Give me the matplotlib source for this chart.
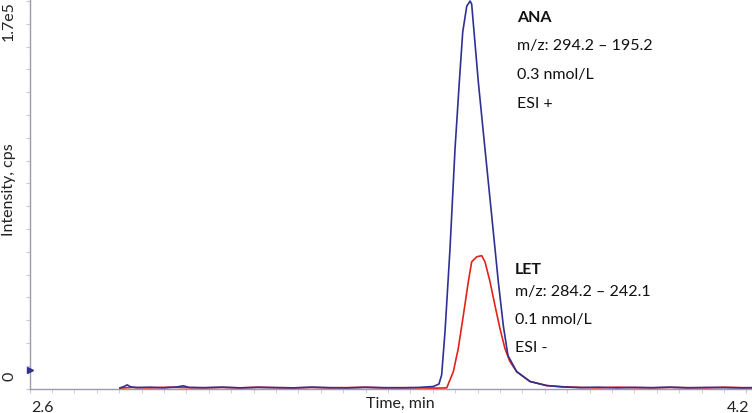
#!/usr/bin/env python3
"""Chromatogram overlay: ANA (ESI+) and LET (ESI-) MRM traces."""

import matplotlib
matplotlib.use('Agg')
import matplotlib.pyplot as plt
import matplotlib.transforms as mtransforms
from matplotlib.ticker import MultipleLocator, FixedLocator

plt.rcParams['font.family'] = ['Lato', 'DejaVu Sans']

# --- ANA trace (time in min, intensity in cps) ---
ana_time = [2.802, 2.810, 2.818, 2.826, 2.840, 2.870, 2.900, 2.930, 2.943, 2.956, 2.990,
            3.030, 3.070, 3.110, 3.150, 3.190, 3.230, 3.270, 3.310, 3.350, 3.390,
            3.430, 3.470, 3.5013, 3.514, 3.520, 3.5275, 3.5386, 3.5498, 3.5594, 3.567,
            3.576, 3.5835, 3.587, 3.6018, 3.6167, 3.6317, 3.6464, 3.6576, 3.6679,
            3.6875, 3.7172, 3.7545, 3.790, 3.830, 3.870, 3.910, 3.950, 3.990,
            4.030, 4.070, 4.110, 4.150, 4.190, 4.212]
ana_int = [300, 800, 1600, 700, 400, 600, 300, 700, 1200, 500, 400,
           600, 300, 500, 400, 300, 600, 400, 300, 500, 400,
           300, 500, 900, 2000, 6000, 25000, 61300, 105100, 134500, 156400,
           167800, 170000, 168600, 134500, 105100, 75800, 46900, 27600, 14500,
           7400, 3100, 1300, 700, 400, 600, 300, 500, 400,
           600, 300, 500, 400, 300, 400]

# --- LET trace ---
let_time = [2.802, 2.830, 2.870, 2.910, 2.950, 2.990, 3.030, 3.070, 3.110, 3.150,
            3.190, 3.230, 3.270, 3.310, 3.350, 3.390, 3.430, 3.470, 3.510,
            3.5313, 3.546, 3.557, 3.5683, 3.5795, 3.587, 3.5982, 3.6094, 3.6167,
            3.6279, 3.639, 3.6502, 3.6613, 3.6725, 3.6875, 3.7172, 3.7545,
            3.790, 3.830, 3.870, 3.910, 3.950, 3.990, 4.030, 4.070, 4.110,
            4.150, 4.190, 4.212]
let_int = [200, 500, 300, 600, 400, 300, 500, 300, 600, 400,
           300, 500, 300, 400, 600, 300, 400, 300, 200,
           300, 7400, 17500, 32000, 46900, 55600, 57800, 58300, 55600,
           46900, 36400, 26300, 17500, 11800, 7400, 3100, 1300,
           800, 500, 300, 600, 400, 300, 500, 400, 300,
           600, 400, 300]

x_tick_vals = [2.6, 4.2]
x_tick_labels = ['2.6', '4.2']

ana_lines = ['ANA', 'm/z: 294.2 – 195.2', '0.3 nmol/L', 'ESI +']
let_lines = ['LET', 'm/z: 284.2 – 242.1', '0.1 nmol/L', 'ESI -']

BLUE = '#2E3192'
RED = '#E2231A'
AXIS = '#9C9CB0'
FS = 11.5


def main():
    fig = plt.figure(figsize=(7.52, 4.14), dpi=100)
    ax = fig.add_axes([29.5 / 752, 24 / 414, 722.5 / 752, 390 / 414])

    ax.plot(let_time, let_int, color=RED, lw=1.2, zorder=3)
    ax.plot(ana_time, ana_int, color=BLUE, lw=1.2, zorder=4)

    ax.set_xlim(2.6, 4.2127)
    ax.set_ylim(-200, 1.709e5)

    for s in ['top', 'right']:
        ax.spines[s].set_visible(False)
    for s in ['left', 'bottom']:
        ax.spines[s].set_color(AXIS)
        ax.spines[s].set_linewidth(1.0)

    # x axis
    ax.xaxis.set_major_locator(FixedLocator(x_tick_vals))
    ax.set_xticklabels(x_tick_labels)
    ax.xaxis.set_minor_locator(MultipleLocator(0.05))
    ax.tick_params(axis='x', which='both', direction='out', length=3, color='#C8C8D4',
                   labelsize=FS, labelcolor='#222222', pad=5)
    offsets = [13, -8]
    for lab, dx in zip(ax.get_xticklabels(), offsets):
        lab.set_transform(lab.get_transform() +
                          mtransforms.ScaledTranslation(dx / 100, 0, fig.dpi_scale_trans))
    ax.set_xlabel('Time, min', fontsize=FS, color='#222222')
    ax.xaxis.set_label_coords((400 - 29.5) / 722.5, -0.017)

    # y axis: minor ticks every 1e4 cps, labels drawn rotated at the far left
    ax.yaxis.set_major_locator(MultipleLocator(1e4))
    ax.set_yticklabels([])
    ax.tick_params(axis='y', which='both', direction='out', length=3, color='#C8C8D4')
    fig.text(9 / 752, 1 - 376 / 414, '0', rotation=90, ha='center', va='center',
             fontsize=FS, color='#222222')
    fig.text(9 / 752, 1 - 21 / 414, '1.7e5', rotation=90, ha='center', va='center',
             fontsize=FS, color='#222222')
    fig.text(9 / 752, 1 - 190 / 414, 'Intensity, cps', rotation=90, ha='center',
             va='center', fontsize=FS, color='#222222')
    ax.plot([0], [8300], marker='>', ms=4, color=BLUE, transform=ax.get_yaxis_transform(),
            clip_on=False, zorder=5)

    # peak annotations
    ana_y = [0.954, 0.882, 0.808, 0.733]
    for i, (txt, yy) in enumerate(zip(ana_lines, ana_y)):
        ax.text(0.675, yy, txt, transform=ax.transAxes, va='center', ha='left',
                fontsize=FS, color='#111111', fontweight='bold' if i == 0 else 'normal')
    let_y = [0.308, 0.251, 0.179, 0.108]
    for i, (txt, yy) in enumerate(zip(let_lines, let_y)):
        ax.text(0.672, yy, txt, transform=ax.transAxes, va='center', ha='left',
                fontsize=FS, color='#111111', fontweight='bold' if i == 0 else 'normal')

    fig.savefig('out.png', dpi=100, facecolor='white')


if __name__ == '__main__':
    main()
